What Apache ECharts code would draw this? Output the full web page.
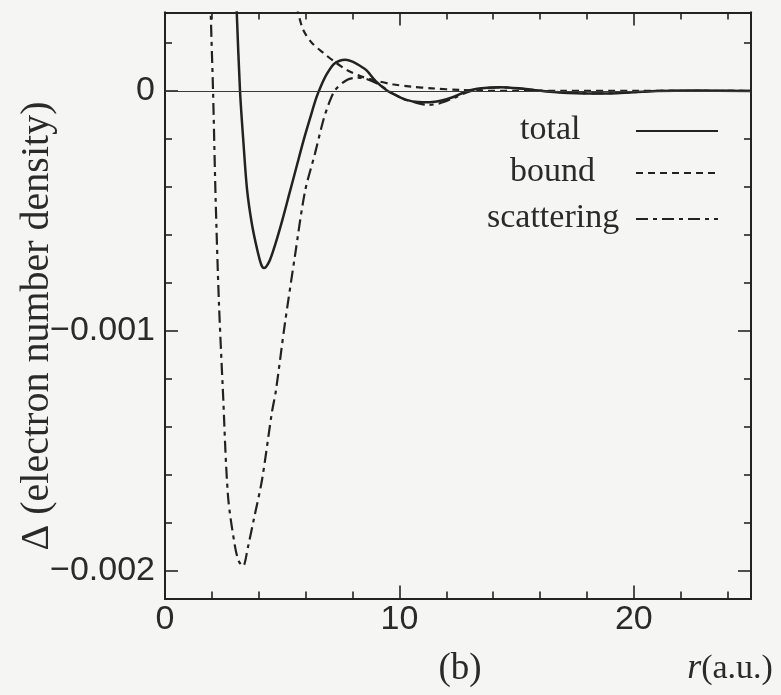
<!DOCTYPE html>
<html>
<head>
<meta charset="utf-8">
<script src="https://cdn.jsdelivr.net/npm/echarts@6/dist/echarts.min.js"></script>
<style>
  html, body { margin: 0; padding: 0; background: #f5f5f3; }
  #chart { width: 781px; height: 695px; }
</style>
</head>
<body>
<div id="chart"></div>
<script>
// r in atomic units, density difference per series
const totalR = [2.95, 3.06, 3.2, 3.35, 3.5, 3.7, 3.93, 4.1, 4.22, 4.45, 4.7, 5.0, 5.3, 5.6, 5.9, 6.2, 6.45, 6.65, 6.9, 7.2, 7.45, 7.7, 8.0, 8.3, 8.6, 9.0, 9.5, 9.9, 10.3, 10.8, 11.3, 11.8, 12.3, 12.9, 13.5, 14.3, 15.2, 16.1, 17.2, 18.6, 20.0, 21.0, 22.5, 25.0];
const totalV = [0.00060, 0.00033, 0.0, -0.00022, -0.00041, -0.00055, -0.00066, -0.000722, -0.000738, -0.00071, -0.00064, -0.00054, -0.00043, -0.00032, -0.00021, -0.00011, -0.00003, 0.00002, 0.00007, 0.000112, 0.000126, 0.00013, 0.000122, 0.000106, 0.000086, 0.00004, 0.0, -0.00002, -0.000037, -0.000046, -0.000047, -0.00004, -0.000025, 0.0, 0.000011, 0.000016, 0.00001, 0.0, -0.000008, -0.000011, -0.000005, 0.0, 0.000002, 0.0];

const boundR = [5.5, 5.67, 5.9, 6.27, 6.76, 7.26, 7.76, 8.3, 8.87, 9.7, 10.5, 11.4, 12.6, 13.5, 15.0, 17.0, 20.0, 25.0];
const boundV = [0.0004, 0.00033, 0.000254, 0.0002, 0.000158, 0.00012, 0.0000875, 0.000063, 0.000046, 0.000028, 0.000018, 0.000011, 0.000004, 0.000001, 0.0, 0.0, 0.0, 0.0];

const scatR = [1.9, 1.95, 2.05, 2.16, 2.3, 2.47, 2.69, 2.99, 3.15, 3.33, 3.54, 3.8, 4.14, 4.56, 4.73, 5.1, 5.54, 5.97, 6.4, 6.76, 7.0, 7.26, 7.76, 8.2, 8.6, 9.17, 9.6, 10.1, 10.6, 11.2, 11.7, 12.3, 12.9, 13.5, 14.3, 15.2, 16.1, 17.5, 18.6, 20.0, 21.0, 25.0];
const scatV = [0.0006, 0.00033, 0.0, -0.00045, -0.00088, -0.00125, -0.00169, -0.0019, -0.00196, -0.00198, -0.0019, -0.00178, -0.00162, -0.00134, -0.00125, -0.00098, -0.00069, -0.00042, -0.00026, -0.00012, -0.00005, 0.000004, 0.000046, 0.000055, 0.00005, 0.000025, -0.000004, -0.00003, -0.000046, -0.000058, -0.000052, -0.00003, -0.000005, 0.00001, 0.000015, 0.00001, 0.0, -0.000008, -0.00001, -0.000005, 0.0, 0.0];

const xMajorTicks = [0, 10, 20];
const xMinorTicks = [2, 4, 6, 8, 12, 14, 16, 18, 22, 24];
const yMajorTicks = [0, -0.001, -0.002];
const yMinorTicks = [0.0002, -0.0002, -0.0004, -0.0006, -0.0008, -0.0012, -0.0014, -0.0016, -0.0018];

const legendNames = ['total', 'bound', 'scattering'];
const yTitle = '\u0394 (electron number density)';
const panelTag = '(b)';

const X_MIN = 0, X_MAX = 25;
const Y_MIN = -0.002115, Y_MAX = 0.000327;

const ink = '#222222';
const pair = (xs, ys) => xs.map((x, i) => [x, ys[i]]);

function xAxisDef(pos, ticks, len, labels) {
  return {
    type: 'value', position: pos, min: X_MIN, max: X_MAX,
    axisLine: { show: true, onZero: false, lineStyle: { color: ink, width: 2 } },
    axisTick: { show: true, inside: true, length: len, customValues: ticks, lineStyle: { color: ink, width: 1.6 } },
    axisLabel: labels ? {
      show: true, customValues: ticks, margin: 4,
      fontFamily: 'Liberation Sans', fontSize: 34, color: '#2a2a2a'
    } : { show: false },
    splitLine: { show: false }
  };
}
function yAxisDef(pos, ticks, len, labels) {
  return {
    type: 'value', position: pos, min: Y_MIN, max: Y_MAX,
    axisLine: { show: true, onZero: false, lineStyle: { color: ink, width: 2 } },
    axisTick: { show: true, inside: true, length: len, customValues: ticks, lineStyle: { color: ink, width: 1.6 } },
    axisLabel: labels ? {
      show: true, customValues: ticks, margin: 10,
      fontFamily: 'Liberation Sans', fontSize: 34, color: '#2a2a2a',
      formatter: v => (Math.abs(v) < 1e-12 ? '0' : '\u2212' + Math.abs(v).toFixed(3))
    } : { show: false },
    splitLine: { show: false }
  };
}

const chart = echarts.init(document.getElementById('chart'), null, { renderer: 'canvas' });

const legendY = [131, 173, 219];
const legendTextX = [520, 510, 487];
const legendDash = [null, [7, 5], [12, 5, 4, 5]];

const graphics = [];
legendNames.forEach((name, i) => {
  graphics.push({
    type: 'text', left: legendTextX[i], top: legendY[i] - 18,
    style: { text: name, font: '34px "Liberation Serif"', fill: '#2a2a2a' }
  });
  graphics.push({
    type: 'line', shape: { x1: 636, y1: legendY[i], x2: 718, y2: legendY[i] },
    style: { stroke: ink, lineWidth: 2.2, lineDash: legendDash[i] || null }
  });
});
graphics.push({
  type: 'text', x: 37, y: 326, rotation: Math.PI / 2,
  style: { text: yTitle, font: '40px "Liberation Serif"', fill: '#2a2a2a', textAlign: 'center', textVerticalAlign: 'middle' }
});
graphics.push({
  type: 'text', x: 460, y: 669,
  style: { text: panelTag, font: '37px "Liberation Serif"', fill: '#2a2a2a', textAlign: 'center', textVerticalAlign: 'middle' }
});
graphics.push({
  type: 'text', x: 730, y: 669,
  style: {
    text: '{i|r}{n|(a.u.)}', textAlign: 'center', textVerticalAlign: 'middle',
    rich: {
      i: { fontFamily: 'Liberation Serif', fontStyle: 'italic', fontSize: 36, fill: '#2a2a2a' },
      n: { fontFamily: 'Liberation Serif', fontSize: 34, fill: '#2a2a2a' }
    }
  }
});

chart.setOption({
  backgroundColor: '#f5f5f3',
  animation: false,
  grid: { left: 165, top: 12.5, width: 586, height: 586, containLabel: false },
  xAxis: [
    xAxisDef('bottom', xMinorTicks, 7, false),
    xAxisDef('bottom', xMajorTicks, 13, true),
    xAxisDef('top', xMinorTicks, 7, false),
    xAxisDef('top', xMajorTicks, 13, false)
  ],
  yAxis: [
    yAxisDef('left', yMinorTicks, 7, false),
    yAxisDef('left', yMajorTicks, 13, true),
    yAxisDef('right', yMinorTicks, 7, false),
    yAxisDef('right', yMajorTicks, 13, false)
  ],
  series: [
    {
      name: legendNames[0], type: 'line', data: pair(totalR, totalV),
      showSymbol: false, smooth: 0.3, clip: true,
      lineStyle: { color: ink, width: 2.5, type: 'solid' },
      markLine: {
        silent: true, symbol: 'none', label: { show: false },
        lineStyle: { color: '#3a3a3a', width: 1.2, type: 'solid' },
        data: [{ yAxis: 0 }]
      }
    },
    {
      name: legendNames[1], type: 'line', data: pair(boundR, boundV),
      showSymbol: false, smooth: 0.3, clip: true,
      lineStyle: { color: ink, width: 2.2, type: [7, 5] }
    },
    {
      name: legendNames[2], type: 'line', data: pair(scatR, scatV),
      showSymbol: false, smooth: 0.3, clip: true,
      lineStyle: { color: ink, width: 2.2, type: [12, 5, 4, 5] }
    }
  ],
  graphic: graphics
});
</script>
</body>
</html>
